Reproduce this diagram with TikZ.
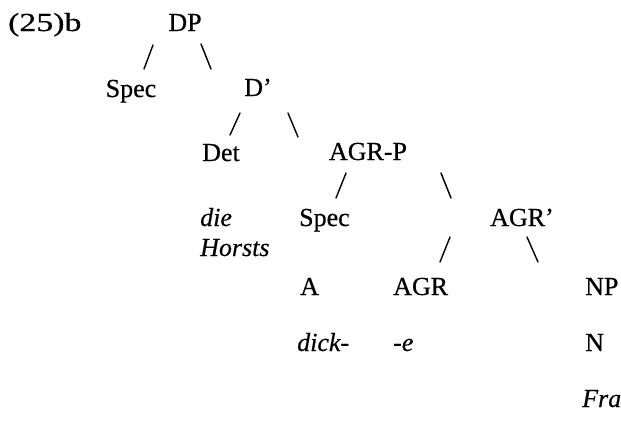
\documentclass[tikz,border=0pt]{standalone}
\usepackage{fontspec}
\setmainfont{Liberation Serif}
\newfontfamily\labfont{Liberation Serif}[Ligatures=TeX,FakeBold=0.5]
\newfontfamily\itlabfont{Liberation Serif Italic}[Ligatures=TeX,FakeBold=0.4]
\newfontfamily\exfont{Liberation Serif}[Ligatures=TeX,FakeBold=0.5,FakeStretch=1.3]
\begin{document}
\begin{tikzpicture}[x=1pt,y=-1pt,
  lbl/.style={inner sep=0pt,anchor=base west,font=\labfont\fontsize{26}{30}\selectfont},
  clbl/.style={inner sep=0pt,anchor=base,font=\labfont\fontsize{26}{30}\selectfont},
  ilbl/.style={lbl,font=\itlabfont\fontsize{26}{30}\selectfont},
  slash/.style={line width=1.4pt,line cap=round}]
\useasboundingbox (0,0) rectangle (621,421);
\node[lbl,font=\exfont\fontsize{26}{30}\selectfont] (ex) at (8,31) {(25)b};
\node[clbl] (dp) at (185,31) {DP};
\node[clbl] (spec1) at (131,97) {Spec};
\node[clbl] (dbar) at (258,96) {D'};
\node[clbl] (det) at (221,161) {Det};
\node[clbl] (agrp) at (368,160) {AGR-P};
\node[ilbl] (die) at (200,226) {die};
\node[ilbl] (horsts) at (200,256) {Horsts};
\node[lbl] (spec2) at (299,226) {Spec};
\node[clbl] (agrbar) at (522,226) {AGR'};
\node[lbl] (a) at (300,295) {A};
\node[lbl] (agr) at (393,295) {AGR};
\node[lbl] (np) at (585,295) {NP};
\node[ilbl] (dick) at (297,351) {dick-};
\node[ilbl] (e) at (393,351) {-e};
\node[lbl] (n) at (585,351) {N};
\node[ilbl] (fra) at (582,407) {Fra};
% slashes
\coordinate (s1a) at (153,45); \coordinate (s1b) at (144,69);
\coordinate (s2a) at (201,44); \coordinate (s2b) at (211,69);
\coordinate (s3a) at (240,113); \coordinate (s3b) at (230,135);
\coordinate (s4a) at (288,113); \coordinate (s4b) at (298,137);
\coordinate (s5a) at (346,173); \coordinate (s5b) at (336,198);
\coordinate (s6a) at (441,173); \coordinate (s6b) at (451,198);
\coordinate (s7a) at (450,237); \coordinate (s7b) at (440,262);
\coordinate (s8a) at (527,237); \coordinate (s8b) at (538,262);
\draw[slash] (s1a) -- (s1b);
\draw[slash] (s2a) -- (s2b);
\draw[slash] (s3a) -- (s3b);
\draw[slash] (s4a) -- (s4b);
\draw[slash] (s5a) -- (s5b);
\draw[slash] (s6a) -- (s6b);
\draw[slash] (s7a) -- (s7b);
\draw[slash] (s8a) -- (s8b);
\end{tikzpicture}
\end{document}
